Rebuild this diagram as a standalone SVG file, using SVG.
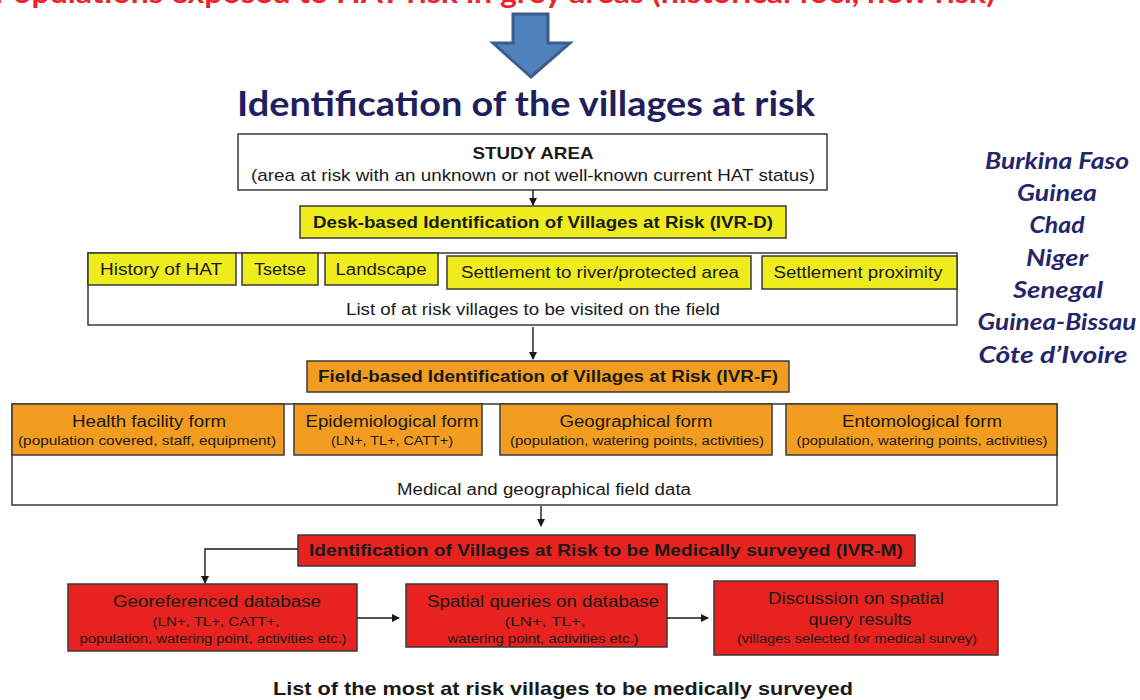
<svg xmlns="http://www.w3.org/2000/svg" width="1140" height="700" viewBox="0 0 1140 700">
  <style>
    .hdr { font-family: Lato, "Open Sans", "Liberation Sans", sans-serif; font-weight: bold; }
    .country { font-family: Lato, "Open Sans", "Liberation Sans", sans-serif; font-weight: bold; font-style: italic; font-size: 23px; fill: #25256a; text-anchor: middle; }
    .box { stroke: #3a3a3a; stroke-width: 1.5; }
    .white { fill: #ffffff; }
    .yellow { fill: #eeec1c; }
    .orange { fill: #f29d20; }
    .red { fill: #e8221e; }
    .t { font-family: "Liberation Sans", Arial, sans-serif; fill: #1a1a1a; text-anchor: middle; }
    .b { font-weight: bold; }
    .conn { stroke: #1a1a1a; stroke-width: 1.4; fill: none; }
  </style>
  <defs>
    <marker id="arr" markerWidth="8" markerHeight="8" refX="7" refY="4" orient="auto" markerUnits="userSpaceOnUse">
      <path d="M0,0 L8,4 L0,8 Z" fill="#1a1a1a"/>
    </marker>
  </defs>

  <rect width="1140" height="700" fill="#ffffff"/>

  <!-- Heading band -->
  <g id="heading">
    <text class="hdr" x="-6" y="3" font-size="28" fill="#ee2229" textLength="1001" lengthAdjust="spacingAndGlyphs">Populations exposed to HAT risk in grey areas (historical foci, new risk)</text>
    <path d="M513,14 H548 V43 H570 L531,77 L493,43 H513 Z" fill="#4f81bd" stroke="#3b5f8c" stroke-width="3" stroke-linejoin="miter"/>
    <text class="hdr" x="237" y="116" font-size="35" fill="#1f1f5e" textLength="578" lengthAdjust="spacingAndGlyphs">Identification of the villages at risk</text>
  </g>

  <!-- Countries -->
  <g id="countries">
    <text class="country" x="1057" y="169" textLength="144" lengthAdjust="spacingAndGlyphs">Burkina Faso</text>
    <text class="country" x="1057" y="201" textLength="80" lengthAdjust="spacingAndGlyphs">Guinea</text>
    <text class="country" x="1057" y="233" textLength="55" lengthAdjust="spacingAndGlyphs">Chad</text>
    <text class="country" x="1057" y="266" textLength="62" lengthAdjust="spacingAndGlyphs">Niger</text>
    <text class="country" x="1058" y="298" textLength="90" lengthAdjust="spacingAndGlyphs">Senegal</text>
    <text class="country" x="1057" y="330" textLength="159" lengthAdjust="spacingAndGlyphs">Guinea-Bissau</text>
    <text class="country" x="1053" y="363" textLength="149" lengthAdjust="spacingAndGlyphs">Côte d’Ivoire</text>
  </g>

  <!-- Study area -->
  <g id="study-area">
    <rect class="box white" x="238" y="134" width="589" height="56"/>
    <text class="t b" x="533" y="159" font-size="17" textLength="121" lengthAdjust="spacingAndGlyphs">STUDY AREA</text>
    <text class="t" x="533" y="181" font-size="17" textLength="564" lengthAdjust="spacingAndGlyphs">(area at risk with an unknown or not well-known current HAT status)</text>
  </g>

  <!-- IVR-D -->
  <g id="ivr-d">
    <rect class="box yellow" x="300" y="206" width="486" height="32"/>
    <text class="t b" x="543" y="228" font-size="16" textLength="460" lengthAdjust="spacingAndGlyphs">Desk-based Identification of Villages at Risk (IVR-D)</text>
  </g>

  <!-- Desk criteria -->
  <g id="desk-list">
    <rect class="box white" x="88" y="253" width="869" height="72"/>
    <text class="t" x="533" y="315" font-size="16" textLength="374" lengthAdjust="spacingAndGlyphs">List of at risk villages to be visited on the field</text>
  </g>
  <g id="history">
    <rect class="box yellow" x="88" y="253" width="148" height="32"/>
    <text class="t" x="161" y="275" font-size="16" textLength="122" lengthAdjust="spacingAndGlyphs">History of HAT</text>
  </g>
  <g id="tsetse">
    <rect class="box yellow" x="242" y="253" width="76" height="32"/>
    <text class="t" x="280" y="275" font-size="16" textLength="52" lengthAdjust="spacingAndGlyphs">Tsetse</text>
  </g>
  <g id="landscape">
    <rect class="box yellow" x="325" y="253" width="113" height="32"/>
    <text class="t" x="381" y="275" font-size="16" textLength="91" lengthAdjust="spacingAndGlyphs">Landscape</text>
  </g>
  <g id="settlement-river">
    <rect class="box yellow" x="447" y="256" width="304" height="33"/>
    <text class="t" x="600" y="278" font-size="16" textLength="278" lengthAdjust="spacingAndGlyphs">Settlement to river/protected area</text>
  </g>
  <g id="settlement-proximity">
    <rect class="box yellow" x="762" y="256" width="195" height="33"/>
    <text class="t" x="858" y="278" font-size="16" textLength="169" lengthAdjust="spacingAndGlyphs">Settlement proximity</text>
  </g>

  <!-- IVR-F -->
  <g id="ivr-f">
    <rect class="box orange" x="307" y="361" width="482" height="31"/>
    <text class="t b" x="548" y="382" font-size="16" textLength="460" lengthAdjust="spacingAndGlyphs">Field-based Identification of Villages at Risk (IVR-F)</text>
  </g>

  <!-- Field forms -->
  <g id="field-data">
    <rect class="box white" x="12" y="404" width="1045" height="101"/>
    <text class="t" x="544" y="495" font-size="16" textLength="294" lengthAdjust="spacingAndGlyphs">Medical and geographical field data</text>
  </g>
  <g id="health-facility">
    <rect class="box orange" x="12" y="404" width="272" height="51"/>
    <text class="t" x="149" y="427" font-size="16" textLength="154" lengthAdjust="spacingAndGlyphs">Health facility form</text>
    <text class="t" x="147" y="445" font-size="12" textLength="258" lengthAdjust="spacingAndGlyphs">(population covered, staff, equipment)</text>
  </g>
  <g id="epidemiological">
    <rect class="box orange" x="294" y="404" width="188" height="51"/>
    <text class="t" x="392" y="427" font-size="16" textLength="173" lengthAdjust="spacingAndGlyphs">Epidemiological form</text>
    <text class="t" x="392" y="445" font-size="12" textLength="122" lengthAdjust="spacingAndGlyphs">(LN+, TL+, CATT+)</text>
  </g>
  <g id="geographical">
    <rect class="box orange" x="500" y="404" width="272" height="51"/>
    <text class="t" x="636" y="427" font-size="16" textLength="153" lengthAdjust="spacingAndGlyphs">Geographical form</text>
    <text class="t" x="637" y="445" font-size="12" textLength="254" lengthAdjust="spacingAndGlyphs">(population, watering points, activities)</text>
  </g>
  <g id="entomological">
    <rect class="box orange" x="786" y="404" width="271" height="51"/>
    <text class="t" x="922" y="427" font-size="16" textLength="160" lengthAdjust="spacingAndGlyphs">Entomological form</text>
    <text class="t" x="922" y="445" font-size="12" textLength="251" lengthAdjust="spacingAndGlyphs">(population, watering points, activities)</text>
  </g>

  <!-- IVR-M -->
  <g id="ivr-m">
    <rect class="box red" x="298" y="535" width="617" height="31"/>
    <text class="t b" x="606" y="556" font-size="16" textLength="594" lengthAdjust="spacingAndGlyphs">Identification of Villages at Risk to be Medically surveyed (IVR-M)</text>
  </g>

  <g id="georeferenced-db">
    <rect class="box red" x="68" y="584" width="289" height="67"/>
    <text class="t" x="217" y="607" font-size="16" textLength="208" lengthAdjust="spacingAndGlyphs">Georeferenced database</text>
    <text class="t" x="216" y="626" font-size="13" textLength="127" lengthAdjust="spacingAndGlyphs">(LN+, TL+, CATT+,</text>
    <text class="t" x="213" y="643" font-size="13" textLength="267" lengthAdjust="spacingAndGlyphs">population, watering point, activities etc.)</text>
  </g>
  <g id="spatial-queries">
    <rect class="box red" x="406" y="584" width="261" height="63"/>
    <text class="t" x="543" y="607" font-size="16" textLength="232" lengthAdjust="spacingAndGlyphs">Spatial queries on database</text>
    <text class="t" x="545" y="626" font-size="13" textLength="81" lengthAdjust="spacingAndGlyphs">(LN+, TL+,</text>
    <text class="t" x="543" y="643" font-size="13" textLength="191" lengthAdjust="spacingAndGlyphs">watering point, activities etc.)</text>
  </g>
  <g id="discussion">
    <rect class="box red" x="714" y="581" width="284" height="74"/>
    <text class="t" x="856" y="604" font-size="16" textLength="176" lengthAdjust="spacingAndGlyphs">Discussion on spatial</text>
    <text class="t" x="860" y="625" font-size="16" textLength="103" lengthAdjust="spacingAndGlyphs">query results</text>
    <text class="t" x="857" y="643" font-size="12" textLength="240" lengthAdjust="spacingAndGlyphs">(villages selected for medical survey)</text>
  </g>

  <g id="result">
    <text class="t b" x="563" y="695" font-size="19" textLength="580" lengthAdjust="spacingAndGlyphs">List of the most at risk villages to be medically surveyed</text>
  </g>

  <!-- Connectors -->
  <g id="connectors">
    <path class="conn" d="M533,190 V205" marker-end="url(#arr)"/>
    <path class="conn" d="M533,327 V359" marker-end="url(#arr)"/>
    <path class="conn" d="M541,506 V526" marker-end="url(#arr)"/>
    <path class="conn" d="M298,549 H205 V583" marker-end="url(#arr)"/>
    <path class="conn" d="M357,618 H399" marker-end="url(#arr)"/>
    <path class="conn" d="M667,618 H708" marker-end="url(#arr)"/>
  </g>
</svg>
